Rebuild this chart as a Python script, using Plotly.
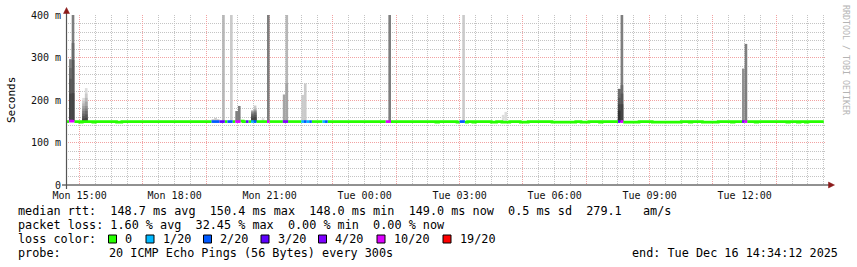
import numpy as np
import pandas as pd
import plotly.graph_objects as go

# ---------------- data ----------------
x_start = "2025-12-15 14:34:12"
x_end = "2025-12-16 14:34:12"
first_bin = "2025-12-15 14:30"
last_bin = "2025-12-16 14:25"
step_min = 5
pings_per_step = 20

# median rtt (ms), piecewise constant runs
median_run_start = [
    "2025-12-15 14:30", "2025-12-15 14:40", "2025-12-15 14:45", "2025-12-15 14:50",
    "2025-12-15 15:00", "2025-12-15 15:05", "2025-12-15 15:25", "2025-12-15 15:30",
    "2025-12-15 16:10", "2025-12-15 16:20", "2025-12-15 20:05", "2025-12-15 20:10",
    "2025-12-16 02:15", "2025-12-16 02:20", "2025-12-16 02:55", "2025-12-16 03:00",
    "2025-12-16 03:10", "2025-12-16 03:15", "2025-12-16 03:25", "2025-12-16 03:30",
    "2025-12-16 04:00", "2025-12-16 04:10", "2025-12-16 04:20", "2025-12-16 04:35",
    "2025-12-16 04:55", "2025-12-16 05:10", "2025-12-16 05:55", "2025-12-16 06:40",
    "2025-12-16 06:50", "2025-12-16 07:05", "2025-12-16 07:25", "2025-12-16 07:30",
    "2025-12-16 08:10", "2025-12-16 08:40", "2025-12-16 09:05", "2025-12-16 10:00",
    "2025-12-16 10:15", "2025-12-16 10:20", "2025-12-16 10:40", "2025-12-16 11:10",
    "2025-12-16 11:35", "2025-12-16 11:40", "2025-12-16 12:20", "2025-12-16 12:25",
    "2025-12-16 13:20", "2025-12-16 13:25", "2025-12-16 13:40", "2025-12-16 13:45",
    "2025-12-16 13:55", "2025-12-16 14:00",
]
median_run_ms = [
    149.2, 150.4, 150.0, 149.2,
    148.0, 149.2, 148.0, 149.2,
    148.0, 149.2, 150.4, 149.2,
    148.0, 149.2, 148.0, 149.2,
    148.0, 149.2, 148.0, 149.2,
    148.0, 149.2, 148.0, 149.2,
    148.0, 149.2, 148.0, 149.2,
    148.0, 149.2, 148.0, 149.2,
    148.0, 149.2, 148.0, 149.2,
    148.0, 149.2, 148.0, 149.2,
    148.0, 149.2, 148.0, 149.2,
    148.0, 149.2, 148.0, 149.2,
    148.0, 149.2,
]

# lost pings (out of 20) per 5-minute step; all other steps: 0
loss_times = [
    "2025-12-15 14:40", "2025-12-15 14:45", "2025-12-15 19:10", "2025-12-15 19:15",
    "2025-12-15 19:20", "2025-12-15 19:25", "2025-12-15 19:30", "2025-12-15 19:40",
    "2025-12-15 19:45", "2025-12-15 19:55", "2025-12-15 20:00", "2025-12-15 20:15",
    "2025-12-15 20:25", "2025-12-15 20:30", "2025-12-15 20:55", "2025-12-15 21:25",
    "2025-12-15 21:30", "2025-12-15 22:00", "2025-12-15 22:05", "2025-12-15 22:10",
    "2025-12-15 22:15", "2025-12-15 22:40", "2025-12-15 22:45", "2025-12-16 00:40",
    "2025-12-16 00:45", "2025-12-16 03:00", "2025-12-16 03:05", "2025-12-16 08:00",
    "2025-12-16 08:05", "2025-12-16 11:55", "2025-12-16 12:00",
]
loss_counts = [10, 10, 2, 2, 2, 3, 3, 2, 2, 10, 10, 3, 1, 2, 10, 6,
               4, 1, 2, 1, 2, 1, 2, 10, 10, 2, 2, 3, 10, 8, 10]

loss_level_min = [0, 1, 2, 3, 4, 10, 19]
loss_level_label = ["0", "1/20", "2/20", "3/20", "4/20", "10/20", "19/20"]
loss_level_color = ["#26ff00", "#00b8ff", "#0059ff", "#5e00ff", "#7e00ff", "#dd00ff", "#ff0000"]

# smoke: received ping times above the median (ms, ascending) for the steps with visible smoke
smoke_times = [
    "2025-12-15 14:40", "2025-12-15 14:45", "2025-12-15 15:05", "2025-12-15 15:10",
    "2025-12-15 19:10", "2025-12-15 19:15", "2025-12-15 19:20", "2025-12-15 19:30",
    "2025-12-15 19:45", "2025-12-15 19:55", "2025-12-15 20:00", "2025-12-15 20:25",
    "2025-12-15 20:30", "2025-12-15 20:45", "2025-12-15 20:55", "2025-12-15 21:25",
    "2025-12-15 21:30", "2025-12-15 22:00", "2025-12-15 22:05", "2025-12-16 00:45",
    "2025-12-16 03:05", "2025-12-16 04:20", "2025-12-16 04:25", "2025-12-16 08:00",
    "2025-12-16 08:05", "2025-12-16 11:55", "2025-12-16 12:00",
]
smoke_upper_ms = [
    [215, 250, 275, 296],
    [216, 294, 334, 450],
    [156, 162, 168, 174, 180, 186, 192, 198, 205],
    [158, 166, 174, 180, 186, 196, 205, 215, 228],
    [155], [158], [155], [450], [450], [174], [186],
    [158, 163, 167, 170, 172, 174, 175, 176],
    [160, 165, 170, 173, 175, 177, 180, 187],
    [157], [450], [213], [240, 450], [212], [239], [450], [450], [165], [172],
    [175, 190, 205, 226, 226, 226, 226, 226],
    [190, 215, 235, 450],
    [274], [332],
]

y_max_s = 0.4
y_tick_vals = [0, 0.1, 0.2, 0.3, 0.4]
y_tick_text = ["0", "100 m", "200 m", "300 m", "400 m"]

stats_rtt = "median rtt:  148.7 ms avg  150.4 ms max  148.0 ms min  149.0 ms now  0.5 ms sd  279.1   am/s"
stats_loss = "packet loss: 1.60 % avg  32.45 % max  0.00 % min  0.00 % now"
probe_label = "probe:"
probe_text = "20 ICMP Echo Pings (56 Bytes) every 300s"
end_text = "end: Tue Dec 16 14:34:12 2025"

# ---------------- geometry ----------------
FW, FH = 857, 267
L, R, T, B = 66, 31, 15, 82
PW = FW - L - R
PH = FH - T - B
Y0 = FH - B


def px(x):
    return (x - L) / PW


def py(y):
    return (Y0 - y) / PH


MAJOR = "#f2a2a2"
MINOR = "#c4c4c4"
FONT = "DejaVu Sans Mono"

# ---------------- derived series ----------------
step = pd.Timedelta(minutes=step_min)
bins = pd.date_range(first_bin, last_bin, freq=f"{step_min}min")
run_t = pd.to_datetime(median_run_start)
ridx = np.searchsorted(run_t.values, bins.values, side="right") - 1
median = np.array(median_run_ms)[ridx]
loss_map = dict(zip(pd.to_datetime(loss_times), loss_counts))
loss = np.array([loss_map.get(b, 0) for b in bins])
lvl = np.searchsorted(loss_level_min, loss, side="right") - 1
med_map = dict(zip(bins, median))


def fmt(t):
    return t.strftime("%Y-%m-%d %H:%M:%S")


fig = go.Figure()

# smoke (SmokePing style bands)
half = pings_per_step // 2
bands = {i: ([], [], []) for i in range(1, half + 1)}
for t_s, upper in zip(smoke_times, smoke_upper_ms):
    t = pd.Timestamp(t_s)
    l = loss_map.get(t, 0)
    m = med_map[t]
    n = pings_per_step - l
    valid = [m] * (n - len(upper)) + list(upper)
    lo = l // 2
    hi = l - lo
    pings = [np.nan] * lo + valid + [np.nan] * hi
    for i in range(1, half + 1):
        b = pings[i - 1]
        tp = pings[pings_per_step - i]
        if np.isnan(b) or np.isnan(tp):
            continue
        b = min(b / 1000, y_max_s)
        tp = min(tp / 1000, y_max_s)
        if tp - b <= 0:
            continue
        bands[i][0].append(fmt(t + step / 2))
        bands[i][1].append(b)
        bands[i][2].append(tp - b)

for i in range(1, half + 1):
    xs, bs, hs = bands[i]
    if not xs:
        continue
    c = int(190 / half * (half - i)) + 50
    col = "#" + f"{c:02x}" * 3
    fig.add_trace(go.Bar(x=xs, y=hs, base=bs, width=step_min * 60 * 1000,
                         marker=dict(color=col, line=dict(width=0)),
                         xaxis="x", yaxis="y", hoverinfo="skip", showlegend=False))

# median line coloured by loss
for li, col in enumerate(loss_level_color):
    xs, ys = [], []
    k = 0
    nb = len(bins)
    while k < nb:
        if lvl[k] != li:
            k += 1
            continue
        j = k
        while j + 1 < nb and lvl[j + 1] == li:
            j += 1
        for mm in range(k, j + 1):
            xs.append(fmt(bins[mm]))
            ys.append(median[mm] / 1000)
        xs.append(fmt(bins[j] + step))
        ys.append(median[j] / 1000)
        xs.append(None)
        ys.append(None)
        k = j + 1
    if xs:
        fig.add_trace(go.Scatter(x=xs, y=ys, mode="lines",
                                 line=dict(color=col, width=2.7, shape="hv"),
                                 xaxis="x2", yaxis="y", hoverinfo="skip",
                                 showlegend=False))

# ---------------- layout ----------------
fig.update_layout(
    template="none",
    width=FW, height=FH,
    margin=dict(l=L, r=R, t=T, b=B, pad=0),
    paper_bgcolor="white", plot_bgcolor="white",
    barmode="overlay", showlegend=False,
    font=dict(family=FONT, size=10, color="#000"),
    xaxis=dict(type="date", range=[x_start, x_end], tick0="2025-12-15 15:00",
               dtick=2 * 3600 * 1000, showgrid=True, gridcolor=MAJOR, gridwidth=1,
               griddash="1px,1px", showticklabels=False, ticks="", zeroline=False,
               showline=False, automargin=False,
               minor=dict(dtick=30 * 60 * 1000, tick0="2025-12-15 15:00", showgrid=True,
                          gridcolor=MINOR, gridwidth=1, griddash="1px,1px", ticks="")),
    xaxis2=dict(type="date", range=[x_start, x_end], overlaying="x", anchor="y", side="bottom",
                tick0="2025-12-15 15:00", dtick=3 * 3600 * 1000, tickformat="%a %H:%M",
                showgrid=False, ticks="", zeroline=False, showline=False, automargin=False,
                tickfont=dict(family=FONT, size=10, color="#111"), ticklabelstandoff=3),
    yaxis=dict(range=[0, y_max_s], tickmode="array", tickvals=y_tick_vals, ticktext=y_tick_text,
               showgrid=True, gridcolor=MAJOR, gridwidth=1, griddash="1px,1px", zeroline=False,
               showline=False, ticks="", automargin=False, ticklabelstandoff=4,
               tickfont=dict(family=FONT, size=10, color="#111"),
               minor=dict(dtick=0.02, tick0=0, showgrid=True, gridcolor=MINOR, gridwidth=1,
                          griddash="1px,1px", ticks="")),
)

shapes = []
AX = "#222222"
ARROW = "#8b1a1a"
# axis lines
shapes.append(dict(type="line", xref="paper", yref="paper", x0=px(62), x1=px(830),
                   y0=0, y1=0, line=dict(color=AX, width=1)))
shapes.append(dict(type="line", xref="paper", yref="paper", x0=px(66.5), x1=px(66.5),
                   y0=py(189), y1=py(11), line=dict(color="#555555", width=1.2)))
# arrows
shapes.append(dict(type="path", xref="paper", yref="paper",
                   path=f"M {px(63.5)} {py(13.5)} L {px(69.5)} {py(13.5)} L {px(66.5)} {py(7.5)} Z",
                   fillcolor=ARROW, line=dict(color=ARROW, width=0.5)))
shapes.append(dict(type="path", xref="paper", yref="paper",
                   path=f"M {px(828.5)} {py(182)} L {px(828.5)} {py(188)} L {px(834.5)} {py(185)} Z",
                   fillcolor=ARROW, line=dict(color=ARROW, width=0.5)))

# loss colour legend boxes
box_x = [108.5, 146, 203.5, 261, 318.5, 377, 443]
for bx, col in zip(box_x, loss_level_color):
    shapes.append(dict(type="rect", xref="paper", yref="paper",
                       x0=px(bx), x1=px(bx + 8), y0=py(243), y1=py(235),
                       fillcolor=col, line=dict(color="#000", width=1)))
fig.update_layout(shapes=shapes)

ann = []


def txt(x, y, s, size=11.8, anchor="left", color="#000", angle=0):
    ann.append(dict(x=px(x), y=py(y), xref="paper", yref="paper", text=s.replace(" ", "\u00a0"),
                    showarrow=False, xanchor=anchor, yanchor="middle", textangle=angle,
                    font=dict(family=FONT, size=size, color=color)))


txt(16, 211, stats_rtt)
txt(16, 225, stats_loss)
txt(16, 239, "loss color:")
for bx, lab in zip(box_x, loss_level_label):
    txt(bx + 14.5, 239, lab)
txt(16, 253, probe_label)
txt(107, 253, probe_text)
txt(840, 253, end_text, anchor="right")
txt(11, 100, "Seconds", size=11, anchor="center", angle=-90)
txt(846, 60, "RRDTOOL / TOBI OETIKER", size=8.3, anchor="center", color="#b4b4b4", angle=90)
fig.update_layout(annotations=ann)

fig.write_html("out.html")
